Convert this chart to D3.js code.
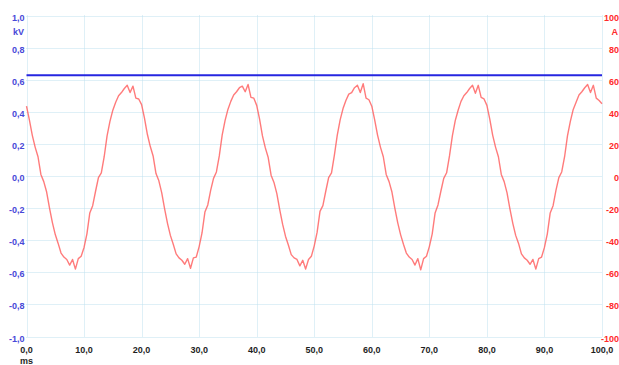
<!DOCTYPE html>
<html>
<head>
<meta charset="utf-8">
<script src="https://cdn.jsdelivr.net/npm/d3@7"></script>
<style>
  body { margin: 0; background: #fff; }
  text { font-family: "Liberation Sans", Arial, sans-serif; font-size: 9px; font-weight: bold; }
</style>
</head>
<body>
<svg></svg>
<script>
// time ticks (ms) and axis ticks
const timeTicks = [0, 10, 20, 30, 40, 50, 60, 70, 80, 90, 100]
const kvTicks = [1.0, 0.8, 0.6, 0.4, 0.2, 0.0, -0.2, -0.4, -0.6, -0.8, -1.0]
const ampTicks = [100, 80, 60, 40, 20, 0, -20, -40, -60, -80, -100]

// voltage (kV), one reading every 5 ms
const voltTime = [0,5,10,15,20,25,30,35,40,45,50,55,60,65,70,75,80,85,90,95,100]
const voltage = [0.627,0.627,0.627,0.627,0.627,0.627,0.627,0.627,0.627,0.627,0.627,
    0.627,0.627,0.627,0.627,0.627,0.627,0.627,0.627,0.627,0.627]

// current (A), one reading every 0.5 ms from 0 to 100 ms
const current = [
    43.5,35,25.5,18,12,1,-3.5,-10,-20,-29,-36.5,-42,-48,-50.5,-52,-55.5,-52,-58,-51.5,-50,
    -44.5,-36,-23,-18.5,-9.5,-1,2,12,25,34,41,46,50,52,54.5,56.5,52,56,48.5,48,
    44.5,36,26,18.5,12.5,1.5,-3,-10.5,-20.5,-29.5,-37,-42.5,-48.5,-51,-52.5,-55,-51.5,-57.5,-51,-50.5,
    -44,-35.5,-22.5,-18,-9,-1.5,2.5,12.5,25.5,34.5,41.5,46.5,50.5,52.5,55,56,52.5,57,49,48.5,
    44,35.5,25,17.5,11.5,0.5,-4,-11,-21,-30,-37.5,-43,-49,-51,-52,-56,-52.5,-58,-52,-50,
    -43.5,-35,-22,-18.5,-9.5,-1,2,13,25.5,35,42,47,51,52,55,56.5,52,57.5,48.5,47.5,
    43.5,35,25.5,18,12,1,-3.5,-10,-20,-29,-36.5,-42.5,-48,-50.5,-52,-55.5,-51.5,-58.5,-51.5,-50,
    -44,-36,-23,-18,-9.5,-1.5,2,12.5,25,34.5,41,46.5,50,52,54.5,56.5,51.5,56.5,49,48,
    44,35.5,25.5,18,12,1,-3.5,-10.5,-20.5,-29.5,-37,-42,-48.5,-51,-52.5,-55,-52,-58,-51.5,-50.5,
    -44.5,-36,-23,-18.5,-9,-1,2.5,12,25,34,41.5,46,50.5,52.5,55,57,52,56.5,48.5,47,
    45
]

const
    svgWidth = 619,
    svgHeight = 365,
    plotLeft = 26.5,
    plotRight = 602,
    plotTop = 15.5,
    plotBottom = 336.5

let svg = d3.select('svg')
    .attr('width', svgWidth)
    .attr('height', svgHeight)

let x = d3.scaleLinear().domain([0, 100]).range([plotLeft, plotRight])
let yV = d3.scaleLinear().domain([-1, 1]).range([plotBottom, plotTop])
let yA = d3.scaleLinear().domain([-100, 100]).range([plotBottom, plotTop])

const gridColor = '#bfe0ee'

// grid
svg.append('g').selectAll('line')
    .data(kvTicks)
    .enter()
    .append('line')
        .attr('x1', plotLeft).attr('x2', plotRight)
        .attr('y1', d => Math.round(yV(d)) + 0.5)
        .attr('y2', d => Math.round(yV(d)) + 0.5)
        .attr('stroke', gridColor)
        .attr('stroke-dasharray', '1,1')

svg.append('g').selectAll('line')
    .data(timeTicks)
    .enter()
    .append('line')
        .attr('x1', d => Math.round(x(d)) + 0.5)
        .attr('x2', d => Math.round(x(d)) + 0.5)
        .attr('y1', plotTop).attr('y2', plotBottom)
        .attr('stroke', gridColor)
        .attr('stroke-dasharray', '1,1')

// left axis labels
svg.append('g').selectAll('text')
    .data(kvTicks)
    .enter()
    .append('text')
    .text(d => d.toFixed(1).replace('.', ',').replace('-0,0', '0,0'))
        .attr('x', 24.5)
        .attr('y', d => yV(d) + 5)
        .attr('text-anchor', 'end')
        .attr('fill', '#4848d8')

svg.append('text').text('kV')
    .attr('x', 24).attr('y', 35)
    .attr('text-anchor', 'end')
    .attr('fill', '#4848d8')

// right axis labels
svg.append('g').selectAll('text')
    .data(ampTicks)
    .enter()
    .append('text')
    .text(d => d)
        .attr('x', 619)
        .attr('y', d => yA(d) + 5)
        .attr('text-anchor', 'end')
        .attr('fill', '#ff2a2a')

svg.append('text').text('A')
    .attr('x', 618).attr('y', 35)
    .attr('text-anchor', 'end')
    .attr('fill', '#ff2a2a')

// bottom labels
svg.append('g').selectAll('text')
    .data(timeTicks)
    .enter()
    .append('text')
    .text(d => d.toFixed(1).replace('.', ','))
        .attr('x', d => x(d))
        .attr('y', 353)
        .attr('text-anchor', 'middle')
        .attr('fill', '#1e1e1e')

svg.append('text').text('ms')
    .attr('x', 20).attr('y', 364)
    .attr('fill', '#1e1e1e')

// current trace
let ampLine = d3.line()
    .x((d, i) => x(i * 0.5))
    .y(d => yA(d))

svg.append('path')
    .datum(current)
    .attr('d', ampLine)
    .attr('fill', 'none')
    .attr('stroke', '#ff5a5a')
    .attr('stroke-opacity', 0.8)
    .attr('stroke-width', 1.4)
    .attr('stroke-linejoin', 'round')

// voltage trace
let voltLine = d3.line()
    .x((d, i) => x(voltTime[i]))
    .y(d => yV(d))

svg.append('path')
    .datum(voltage)
    .attr('d', voltLine)
    .attr('fill', 'none')
    .attr('stroke', '#2626e0')
    .attr('stroke-width', 2)
</script>
</body>
</html>
